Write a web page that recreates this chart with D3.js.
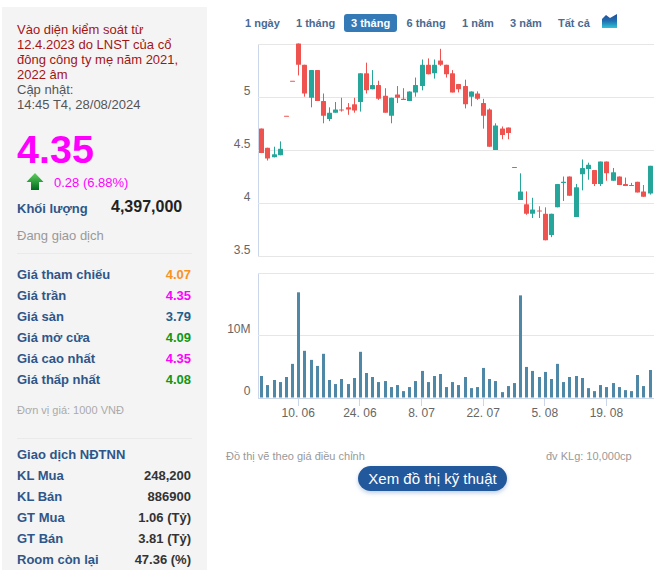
<!DOCTYPE html>
<html>
<head>
<meta charset="utf-8">
<script src="https://cdn.jsdelivr.net/npm/d3@7"></script>
<style>
  html, body { margin: 0; padding: 0; background: #fff; }
  svg { display: block; }
  text { font-family: "Liberation Sans", Arial, sans-serif; }
  .axis path, .axis line { shape-rendering: crispEdges; }
</style>
</head>
<body>
<svg id="page" width="669" height="577"></svg>
<script>
// Data

var dates = ["31.05",
  "3.06","4.06","5.06","6.06","7.06","10.06","11.06","12.06","13.06","14.06",
  "17.06","18.06","19.06","20.06","21.06","24.06","25.06","26.06","27.06","28.06",
  "1.07","2.07","3.07","4.07","5.07","8.07","9.07","10.07","11.07","12.07",
  "15.07","16.07","17.07","18.07","19.07","22.07","23.07","24.07","25.07","26.07",
  "29.07","30.07","31.07","1.08","2.08","5.08","6.08","7.08","8.08","9.08",
  "12.08","13.08","14.08","15.08","16.08","19.08","20.08","21.08","22.08","23.08",
  "26.08","27.08","28.08"];

var open = [4.70,4.52,4.43,4.45,4.82,5.15,5.50,5.30,4.99,5.25,4.96,4.79,4.85,4.88,4.90,4.93,
  4.95,5.22,5.07,5.11,5.01,4.82,5.02,4.98,4.96,5.04,5.10,5.30,5.22,5.34,5.30,5.22,
  5.12,5.10,5.00,5.03,4.94,4.88,4.50,4.70,4.71,4.34,4.03,3.99,3.90,3.93,3.90,3.70,
  3.96,4.19,4.25,3.87,4.27,4.32,4.31,4.18,4.39,4.21,4.25,4.18,4.17,4.20,4.11,4.09];
var high = [4.70,4.52,4.53,4.58,4.82,5.15,5.50,5.30,5.25,5.25,5.03,4.90,4.95,4.99,4.94,4.99,
  5.22,5.32,5.25,5.15,5.08,4.99,5.10,5.08,5.05,5.18,5.35,5.36,5.35,5.45,5.30,5.25,
  5.12,5.16,5.05,5.05,4.98,4.89,4.75,4.72,4.71,4.34,4.28,4.11,4.05,3.97,3.96,3.90,
  4.18,4.25,4.25,4.18,4.41,4.38,4.31,4.39,4.39,4.33,4.25,4.24,4.19,4.20,4.17,4.35];
var low = [4.47,4.40,4.43,4.45,4.82,5.15,5.20,5.00,4.90,4.96,4.75,4.77,4.85,4.86,4.83,4.85,
  4.86,5.03,5.07,4.97,4.85,4.75,4.94,4.97,4.96,5.00,5.06,5.21,5.17,5.29,5.18,5.04,
  5.04,4.89,4.91,4.97,4.70,4.53,4.50,4.60,4.60,4.34,4.03,3.89,3.86,3.86,3.65,3.68,
  3.96,4.02,4.07,3.87,4.12,4.22,4.16,4.16,4.21,4.21,4.17,4.16,4.16,4.10,4.06,4.08];
var close = [4.47,4.42,4.46,4.51,4.82,5.15,5.30,5.03,5.25,4.96,4.82,4.85,4.88,4.87,4.88,4.87,
  5.22,5.06,5.11,4.98,4.85,4.99,4.99,4.97,5.05,5.11,5.30,5.21,5.30,5.30,5.21,5.04,
  5.07,4.93,5.05,4.98,4.82,4.53,4.73,4.64,4.66,4.34,4.11,3.90,3.94,3.92,3.65,3.90,
  4.18,4.20,4.07,4.15,4.33,4.36,4.18,4.39,4.28,4.29,4.17,4.16,4.16,4.10,4.06,4.35];
var volume = [3.44,1.99,2.8,2.47,3.28,5.38,16.83,7.47,6.02,5.05,6.99,2.8,2.15,2.96,2.15,3.12,
  7.31,3.92,3.28,2.47,2.63,1.67,1.99,1.02,1.67,2.63,4.25,2.47,3.44,3.76,1.67,2.47,
  1.99,3.28,1.5,1.67,4.73,2.96,2.63,0.86,1.83,2.31,16.34,4.89,4.25,3.28,4.09,2.96,
  5.38,2.47,3.28,3.44,3.12,1.5,1.02,1.99,1.67,2.31,1.67,1.18,1.02,3.6,1.83,4.40];

var priceTicks = [3.5, 4, 4.5, 5, 5.5];
var priceLabels = ["3.5", "4", "4.5", "5"];
var volumeTicks = [0, 10, 20];
var dateTicks = ["10.06", "24.06", "8.07", "22.07", "5.08", "19.08"];
var dateTickLabels = ["10. 06", "24. 06", "8. 07", "22. 07", "5. 08", "19. 08"];

var ranges = ["1 ngày", "1 tháng", "3 tháng", "6 tháng", "1 năm", "3 năm", "Tất cả"];
var rangeX = [245, 296, 351, 406.5, 462, 510, 558];

var noteLines = ["Vào diện kiểm soát từ", "12.4.2023 do LNST của cổ", "đông công ty mẹ năm 2021,", "2022 âm"];
var updateLines = ["Cập nhật:", "14:45 T4, 28/08/2024"];

var priceRows = ["Giá tham chiếu", "Giá trần", "Giá sàn", "Giá mở cửa", "Giá cao nhất", "Giá thấp nhất"];
var priceValues = ["4.07", "4.35", "3.79", "4.09", "4.35", "4.08"];
var priceColors = ["#f7931e", "#ff00ff", "#1f5f8b", "#129612", "#ff00ff", "#129612"];

var foreignRows = ["KL Mua", "KL Bán", "GT Mua", "GT Bán", "Room còn lại"];
var foreignValues = ["248,200", "886900", "1.06 (Tỷ)", "3.81 (Tỷ)", "47.36 (%)"];

var svg = d3.select("#page");

// LEFT PANEL

svg.append("rect").attr("x", 2).attr("y", 7).attr("width", 205).attr("height", 563).attr("fill", "#f4f4f5");

function addText(x, y, str, size, color, weight, anchor) {
  return svg.append("text")
    .attr("x", x).attr("y", y)
    .attr("font-size", size)
    .attr("fill", color)
    .attr("font-weight", weight || "normal")
    .attr("text-anchor", anchor || "start")
    .text(str);
}

noteLines.forEach(function(d, i) { addText(17, 34 + i * 15, d, 13, "#a31515"); });
updateLines.forEach(function(d, i) { addText(17, 94 + i * 15, d, 13, "#555"); });

addText(17, 162.5, "4.35", 39.5, "#ff00ff", "bold");

// green up arrow
var defs = svg.append("defs");
var arrowGrad = defs.append("linearGradient").attr("id", "arrowGrad").attr("x1", 0).attr("y1", 0).attr("x2", 0).attr("y2", 1);
arrowGrad.append("stop").attr("offset", "0%").attr("stop-color", "#5fd05f");
arrowGrad.append("stop").attr("offset", "100%").attr("stop-color", "#006b1e");
svg.append("path").attr("d", "M35 173 L43.5 182 L39 182 L39 190 L31 190 L31 182 L26.5 182 Z").attr("fill", "url(#arrowGrad)");

addText(54, 186.5, "0.28 (6.88%)", 13, "#ff00ff");
addText(17, 213, "Khối lượng", 13, "#2f5688", "bold");
addText(111, 211.5, "4,397,000", 16, "#222", "bold");
addText(17, 240, "Đang giao dịch", 13, "#999");

svg.append("line").attr("x1", 17).attr("x2", 192).attr("y1", 253.5).attr("y2", 253.5).attr("stroke", "#eaeaea");
svg.append("line").attr("x1", 17).attr("x2", 192).attr("y1", 438.5).attr("y2", 438.5).attr("stroke", "#eaeaea");

priceRows.forEach(function(d, i) {
  addText(17, 279 + i * 21, d, 13, "#2f5688", "bold");
  addText(191, 279 + i * 21, priceValues[i], 13, priceColors[i], "bold", "end");
});

addText(17, 413.5, "Đơn vị giá: 1000 VNĐ", 11, "#aaa");
addText(17, 458.5, "Giao dịch NĐTNN", 13, "#2f5688", "bold");

foreignRows.forEach(function(d, i) {
  addText(17, 479.5 + i * 21, d, 13, "#2f5688", "bold");
  addText(191, 479.5 + i * 21, foreignValues[i], 13, "#333", "bold", "end");
});

// RANGE BUTTONS

svg.append("rect").attr("x", 344).attr("y", 14).attr("width", 53).attr("height", 18).attr("rx", 3).attr("fill", "#337ab7");
ranges.forEach(function(d, i) {
  addText(rangeX[i], 26.5, d, 11, i == 2 ? "#fff" : "#4a6a92", "bold");
});

// small area chart icon
var iconGrad = defs.append("linearGradient").attr("id", "iconGrad").attr("x1", 0).attr("y1", 0).attr("x2", 0).attr("y2", 1);
iconGrad.append("stop").attr("offset", "0%").attr("stop-color", "#1f4f9c");
iconGrad.append("stop").attr("offset", "50%").attr("stop-color", "#1f6fb0");
iconGrad.append("stop").attr("offset", "100%").attr("stop-color", "#2ec4d6");
svg.append("path").attr("d", "M602 28 L602 19 L606 15 L610 18 L617 14 L617 28 Z").attr("fill", "url(#iconGrad)");

// CHARTS

var left = 257.5, right = 654;
var priceTop = 43.5, priceBottom = 256.3;
var volTop = 272.5, volBottom = 397.5;

var xBand = d3.scaleBand().domain(dates).range([258.2, 652.6]);

var yPrice = d3.scaleLinear().domain([3.5, 5.5]).range([priceBottom, priceTop]);
var yVol = d3.scaleLinear().domain([0, 20]).range([volBottom, volTop]);

function xMid(d) { return Math.round(xBand(d) + xBand.bandwidth() / 2); }

// price axis + grid
var priceGrid = d3.axisLeft(yPrice)
  .tickValues(priceTicks)
  .tickSize(-(right - left))
  .tickPadding(7)
  .tickFormat(function(d) { return priceLabels.indexOf(String(d)) >= 0 ? String(d) : ""; });

var gPrice = svg.append("g").attr("class", "axis").attr("transform", "translate(" + left + ",0)").call(priceGrid);
gPrice.select(".domain").attr("stroke", "#ccd6eb");
gPrice.selectAll(".tick line").attr("stroke", "#e6e6e6");
gPrice.selectAll(".tick text").attr("fill", "#666").attr("font-size", 12).attr("dy", "-2.6").style("font-family", "Liberation Sans");

// candles
var candle = svg.append("g").selectAll("g").data(dates).enter().append("g");

candle.append("line")
  .attr("x1", function(d) { return xMid(d) + 0.5; })
  .attr("x2", function(d) { return xMid(d) + 0.5; })
  .attr("y1", function(d, i) { return yPrice(high[i]); })
  .attr("y2", function(d, i) { return yPrice(low[i]); })
  .attr("stroke", function(d, i) { return close[i] > open[i] ? "#26a69a" : "#ef5350"; })
  .attr("stroke-width", 1);

candle.append("rect")
  .attr("x", function(d) { return xMid(d) - 2; })
  .attr("width", 5)
  .attr("y", function(d, i) { return yPrice(Math.max(open[i], close[i])); })
  .attr("height", function(d, i) { return Math.max(1, Math.abs(yPrice(open[i]) - yPrice(close[i]))); })
  .attr("rx", 0.5)
  .attr("fill", function(d, i) { return close[i] > open[i] ? "#26a69a" : "#ef5350"; });

// volume axis + grid
var volGrid = d3.axisLeft(yVol)
  .tickValues(volumeTicks)
  .tickSize(-(right - left))
  .tickPadding(7)
  .tickFormat(function(d) { return d == 20 ? "" : (d == 0 ? "0" : d + "M"); });

var gVol = svg.append("g").attr("class", "axis").attr("transform", "translate(" + left + ",0)").call(volGrid);
gVol.select(".domain").attr("stroke", "#ccd6eb");
gVol.selectAll(".tick line").attr("stroke", "#e6e6e6");
gVol.selectAll(".tick text").attr("fill", "#666").attr("font-size", 12).attr("dy", "-2.6").style("font-family", "Liberation Sans");

// volume bars
svg.append("g").selectAll("rect").data(dates).enter().append("rect")
  .attr("x", function(d) { return xMid(d) - 1; })
  .attr("width", 3)
  .attr("y", function(d, i) { return yVol(volume[i]); })
  .attr("height", function(d, i) { return yVol(0) - yVol(volume[i]); })
  .attr("fill", "#4f87a6");

// date axis
var dateAxis = d3.axisBottom(xBand)
  .tickValues(dateTicks)
  .tickSize(8)
  .tickPadding(3)
  .tickFormat(function(d) { return dateTickLabels[dateTicks.indexOf(d)]; });

var gDate = svg.append("g").attr("class", "axis").attr("transform", "translate(0," + volBottom + ")").call(dateAxis);
gDate.select(".domain").attr("d", "M" + left + ",0.5H" + right).attr("stroke", "#ccd6eb");
gDate.selectAll(".tick line").attr("stroke", "#ccd6eb");
gDate.selectAll(".tick text").attr("fill", "#666").attr("font-size", 12).style("font-family", "Liberation Sans");

// FOOTER

addText(226, 459.5, "Đồ thị vẽ theo giá điều chỉnh", 11, "#999");
addText(546, 459.5, "đv KLg: 10,000cp", 11, "#999");

var shadow = defs.append("filter").attr("id", "btnShadow").attr("x", "-10%").attr("y", "-30%").attr("width", "120%").attr("height", "170%");
shadow.append("feDropShadow").attr("dx", 0).attr("dy", 2).attr("stdDeviation", 2).attr("flood-color", "#7d9cc4").attr("flood-opacity", 0.5);

svg.append("rect").attr("x", 358).attr("y", 466).attr("width", 149).attr("height", 25).attr("rx", 12.5)
  .attr("fill", "#24589c").attr("filter", "url(#btnShadow)");
addText(432.5, 484, "Xem đồ thị kỹ thuật", 15, "#fff", "normal", "middle");
</script>
</body>
</html>
